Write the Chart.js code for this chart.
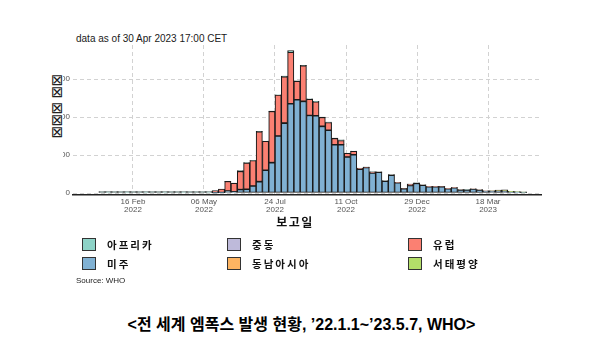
<!DOCTYPE html>
<html>
<head>
    <meta charset="utf-8" />
    <title>전 세계 엠폭스 발생 현황</title>
    <style>
        body {
            margin: 0;
            width: 603px;
            height: 363px;
            background: #fff;
            position: relative;
            overflow: hidden;
            font-family: "Liberation Sans", Arial, sans-serif;
        }

        #asof {
            position: absolute;
            left: 76px;
            top: 33px;
            font-size: 10px;
            color: #1a1a1a;
        }

        #plotClip {
            position: absolute;
            left: 63px;
            top: 30px;
            width: 500px;
            height: 190px;
            overflow: hidden;
        }

        #plotBox {
            position: absolute;
            left: -63px;
            top: 0;
            width: 553px;
            height: 190px;
        }

        #yTitle {
            position: absolute;
            left: 51px;
            top: 74px;
            font-family: "DejaVu Sans";
            font-size: 15px;
            line-height: 12px;
            color: #222;
        }

        #xTitle {
            position: absolute;
            left: 245px;
            top: 213px;
            width: 100px;
            text-align: center;
            font-family: "Noto Sans CJK KR", sans-serif;
            font-weight: bold;
            font-size: 12px;
            letter-spacing: 1.5px;
            color: #111;
        }

        #legend {
            position: absolute;
            left: 82px;
            top: 238px;
            display: grid;
            grid-template-columns: 145px 181px 120px;
            grid-template-rows: 19px 19px;
            grid-auto-flow: column;
        }

        .item {
            display: flex;
            align-items: flex-start;
        }

        .box {
            width: 12px;
            height: 11px;
            border: 1px solid #333;
            margin-right: 11px;
        }

        .lab {
            font-family: "Noto Sans CJK KR", sans-serif;
            font-weight: bold;
            font-size: 10.5px;
            letter-spacing: 2px;
            line-height: 13px;
            color: #111;
        }

        #source {
            position: absolute;
            left: 76px;
            top: 276px;
            font-size: 8px;
            color: #222;
        }

        #caption {
            position: absolute;
            left: 0;
            width: 603px;
            top: 311px;
            text-align: center;
            font-family: "Liberation Sans", "Noto Sans CJK KR", sans-serif;
            font-weight: bold;
            font-size: 16px;
            color: #000;
        }
    </style>
</head>
<body>
    <div id="asof">data as of 30 Apr 2023 17:00 CET</div>
    <div id="yTitle">⊠<br>⊠<div style="height:4px"></div>⊠<br>⊠<br>⊠</div>
    <div id="plotClip">
        <div id="plotBox"><canvas id="mpoxChart"></canvas></div>
    </div>
    <div id="xTitle">보고일</div>
    <div id="legend"></div>
    <div id="source">Source: WHO</div>
    <div id="caption">&lt;전 세계 엠폭스 발생 현황, ’22.1.1~’23.5.7, WHO&gt;</div>

    <script src="https://cdn.jsdelivr.net/npm/chart.js"></script>
    <script>
        // weekly bars, first week starts 2022-01-09
        const firstWeek = '2022-01-09';
        const weekCount = 68;

        const tickDates = ['2022-02-16', '2022-05-06', '2022-07-24', '2022-10-11', '2022-12-29', '2023-03-18'];
        const tickLabels = [['16 Feb', '2022'], ['06 May', '2022'], ['24 Jul', '2022'], ['11 Oct', '2022'], ['29 Dec', '2022'], ['18 Mar', '2023']];
        const yTicks = [0, 2000, 4000, 6000];

        const americas = [
            0, 0, 0, 0, 0, 0, 0, 0, 0, 0, 0, 0, 0, 0, 0, 0, 0, 0,
            10, 20, 100, 60, 180, 195, 370, 600, 1195, 1600, 3000, 3680, 4700, 4910, 4825, 4085,
            4070, 3510, 3300, 2545, 2545, 1895, 2020, 1250, 1340, 1050, 1090, 620, 940, 540,
            230, 390, 505, 415, 330, 330, 335, 225, 275, 165, 165, 210, 160, 105, 100, 110,
            100, 50, 45, 30
        ];
        const europe = [
            0, 0, 0, 0, 0, 0, 0, 0, 0, 0, 0, 0, 0, 0, 0, 0, 0, 0,
            120, 190, 510, 460, 960, 1390, 1340, 2630, 1530, 2700, 2160, 2450, 2720, 980, 1880, 860,
            735, 470, 415, 330, 220, 195, 175, 50, 20, 60, 20, 15, 15, 10,
            5, 75, 15, 10, 10, 10, 5, 10, 10, 5, 0, 10, 10, 10, 10, 10,
            10, 0, 0, 0
        ];
        const africa = [
            75, 70, 80, 75, 70, 75, 80, 70, 75, 75, 70, 80, 75, 70, 75, 80, 75, 70,
            0, 0, 5, 0, 40, 15, 10, 15, 10, 15, 15, 25, 85, 20, 25, 20,
            20, 20, 20, 20, 40, 15, 15, 15, 10, 10, 10, 15, 10, 10,
            10, 10, 10, 10, 5, 5, 5, 5, 5, 5, 10, 5, 5, 5, 0, 0,
            0, 0, 0, 0
        ];
        const eastMed = new Array(weekCount).fill(0);
        const seAsia = new Array(weekCount).fill(0);
        const westPac = [
            0, 0, 0, 0, 0, 0, 0, 0, 0, 0, 0, 0, 0, 0, 0, 0, 0, 0,
            0, 0, 0, 0, 0, 0, 0, 0, 0, 0, 0, 0, 0, 0, 0, 0,
            0, 0, 0, 0, 0, 0, 0, 0, 0, 0, 0, 0, 0, 0,
            0, 0, 0, 0, 0, 0, 0, 0, 0, 0, 0, 0, 0, 0, 10, 30,
            60, 40, 35, 30
        ];

        // legend order (3 columns x 2 rows, column first)
        const legendNames = ['아프리카', '미주', '중동', '동남아시아', '유럽', '서태평양'];
        const colors = {
            '아프리카': '#8DD3C7',
            '미주': '#80B1D3',
            '중동': '#BEBADA',
            '동남아시아': '#FDB462',
            '유럽': '#FB8072',
            '서태평양': '#B3DE69'
        };
        // stacking order, bottom first
        const stackOrder = [
            ['미주', americas], ['유럽', europe], ['동남아시아', seAsia],
            ['중동', eastMed], ['서태평양', westPac], ['아프리카', africa]
        ];

        const day0 = Date.UTC(2022, 0, 1);
        function toDay(s) {
            const p = s.split('-').map(Number);
            return (Date.UTC(p[0], p[1] - 1, p[2]) - day0) / 86400000;
        }
        const tickDays = tickDates.map(toDay);
        const weekMid = [];
        for (let i = 0; i < weekCount; i++) weekMid.push(toDay(firstWeek) + 7 * i + 3.5);

        const datasets = stackOrder.map(([name, vals]) => ({
            label: name,
            data: vals.map((v, i) => ({ x: weekMid[i], y: v > 0 ? v : null })),
            backgroundColor: colors[name],
            borderColor: '#1a1a1a',
            borderWidth: 1.1,
            borderSkipped: false,
            barPercentage: 1,
            categoryPercentage: 1
        }));

        const legend = document.getElementById('legend');
        legendNames.forEach(n => {
            legend.innerHTML += `<div class="item"><div class="box" style="background:${colors[n]}"></div><div class="lab">${n}</div></div>`;
        });

        const tickFont = { family: 'Liberation Sans', size: 8, lineHeight: 1 };

        new Chart(document.getElementById('mpoxChart'), {
            type: 'bar',
            data: { datasets: datasets },
            options: {
                responsive: true,
                maintainAspectRatio: false,
                animation: false,
                layout: { padding: { top: 15, right: 12, left: 0, bottom: 0 } },
                plugins: { legend: { display: false }, tooltip: { enabled: false } },
                scales: {
                    x: {
                        type: 'linear',
                        stacked: true,
                        offset: false,
                        min: -20.7,
                        max: 499.9,
                        afterBuildTicks: s => { s.ticks = tickDays.map(v => ({ value: v })); },
                        afterFit: s => { s.height = 25; },
                        ticks: {
                            autoSkip: false,
                            maxRotation: 0,
                            padding: 3,
                            color: '#555',
                            font: tickFont,
                            callback: v => tickLabels[tickDays.indexOf(v)]
                        },
                        grid: { offset: false, color: '#d2d2d2', lineWidth: 1, drawTicks: false },
                        border: { display: true, color: '#222', width: 1.5, dash: [4, 3] }
                    },
                    y: {
                        stacked: true,
                        min: -105,
                        max: 7795,
                        afterBuildTicks: s => { s.ticks = yTicks.map(v => ({ value: v })); },
                        afterFit: s => { s.width = 73; },
                        ticks: { padding: 3, color: '#555', font: tickFont },
                        grid: { color: '#d2d2d2', lineWidth: 1, drawTicks: false },
                        border: { display: false, dash: [4, 3] }
                    }
                }
            }
        });
    </script>
</body>
</html>
